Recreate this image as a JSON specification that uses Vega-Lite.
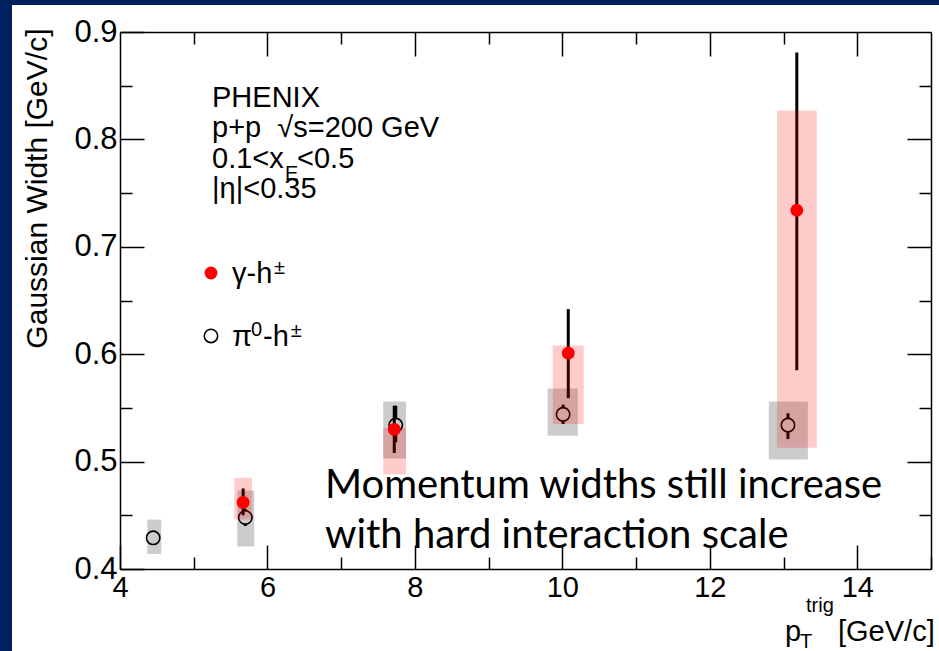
{
  "$schema": "https://vega.github.io/schema/vega-lite/v6.json",
  "width": 811,
  "height": 537,
  "autosize": {"type": "none"},
  "padding": {"left": 120, "top": 32, "right": 8, "bottom": 82},
  "background": "#002060",
  "config": {
    "view": {"stroke": null},
    "axis": {
      "grid": false,
      "domainColor": "black",
      "domainWidth": 1.5,
      "tickColor": "black",
      "tickWidth": 1.5,
      "labelColor": "black",
      "labelFont": "Liberation Sans",
      "labelFontSize": 29,
      "labelFlush": false,
      "labelOverlap": false,
      "titleFont": "Liberation Sans",
      "titleFontSize": 30,
      "titleFontWeight": "normal",
      "titleColor": "black"
    }
  },
  "datasets": {
    "panel": [{"x1": 2.535, "x2": 15.4, "y1": 0.3, "y2": 0.92514}],
    "gamma": [
      {"pt": 5.67, "w": 0.462, "lo": 0.450, "hi": 0.475, "sx1": 5.55, "sx2": 5.79, "slo": 0.446, "shi": 0.485},
      {"pt": 7.72, "w": 0.530, "lo": 0.508, "hi": 0.552, "sx1": 7.57, "sx2": 7.88, "slo": 0.488, "shi": 0.531},
      {"pt": 10.08, "w": 0.601, "lo": 0.559, "hi": 0.642, "sx1": 9.87, "sx2": 10.29, "slo": 0.535, "shi": 0.608},
      {"pt": 13.18, "w": 0.734, "lo": 0.585, "hi": 0.881, "sx1": 12.91, "sx2": 13.45, "slo": 0.513, "shi": 0.827}
    ],
    "pi0": [
      {"pt": 4.45, "w": 0.429, "lo": 0.423, "hi": 0.435, "sx1": 4.37, "sx2": 4.56, "slo": 0.414, "shi": 0.446},
      {"pt": 5.70, "w": 0.448, "lo": 0.440, "hi": 0.456, "sx1": 5.59, "sx2": 5.82, "slo": 0.421, "shi": 0.473},
      {"pt": 7.74, "w": 0.534, "lo": 0.518, "hi": 0.552, "sx1": 7.57, "sx2": 7.88, "slo": 0.503, "shi": 0.556},
      {"pt": 10.01, "w": 0.544, "lo": 0.535, "hi": 0.553, "sx1": 9.80, "sx2": 10.21, "slo": 0.524, "shi": 0.568},
      {"pt": 13.06, "w": 0.534, "lo": 0.521, "hi": 0.545, "sx1": 12.80, "sx2": 13.33, "slo": 0.502, "shi": 0.556}
    ],
    "legGamma": [{"lx": 5.234, "ly": 0.6756}],
    "legPi0": [{"lx": 5.234, "ly": 0.617}],
    "txtMain": [
      {"tx": 5.2478, "ty": 0.8302, "t": "PHENIX"},
      {"tx": 5.2478, "ty": 0.8022, "t": "p+p\u00a0\u00a0√s=200 GeV"},
      {"tx": 5.2478, "ty": 0.7734, "t": "0.1<x"},
      {"tx": 6.4008, "ty": 0.7734, "t": "<0.5"},
      {"tx": 5.2478, "ty": 0.7454, "t": "|η|<0.35"},
      {"tx": 5.519, "ty": 0.6663, "t": "γ-h"},
      {"tx": 5.519, "ty": 0.6076, "t": "π"},
      {"tx": 5.9396, "ty": 0.6076, "t": "-h"}
    ],
    "txtSmall": [
      {"tx": 6.238, "ty": 0.7622, "t": "E"},
      {"tx": 6.0888, "ty": 0.6747, "t": "±"},
      {"tx": 5.7768, "ty": 0.6169, "t": "0"},
      {"tx": 6.3155, "ty": 0.616, "t": "±"},
      {"tx": 13.223, "ty": 0.32644, "t": "T"},
      {"tx": 13.3045, "ty": 0.35996, "t": "trig"}
    ],
    "txtTitle": [
      {"tx": 13.0197, "ty": 0.33296, "t": "p"},
      {"tx": 13.7385, "ty": 0.33296, "t": "[GeV/c]"}
    ],
    "note": [
      {"tx": 6.7805, "ty": 0.4661, "t": "Momentum widths still increase"},
      {"tx": 6.7805, "ty": 0.4196, "t": "with hard interaction scale"}
    ]
  },
  "resolve": {"axis": {"x": "independent", "y": "independent"}},
  "layer": [
    {
      "data": {"name": "panel"},
      "mark": {"type": "rect", "fill": "white"},
      "encoding": {
        "x": {"field": "x1", "type": "quantitative", "scale": {"domain": [4, 15], "nice": false, "zero": false}, "axis": null},
        "x2": {"field": "x2"},
        "y": {"field": "y1", "type": "quantitative", "scale": {"domain": [0.4, 0.9], "nice": false, "zero": false}, "axis": null},
        "y2": {"field": "y2"}
      }
    },
    {
      "data": {"name": "pi0"},
      "mark": {"type": "rule", "color": "black", "strokeWidth": 3},
      "encoding": {
        "x": {"field": "pt", "type": "quantitative", "scale": {"domain": [4, 15], "nice": false, "zero": false},
          "axis": {
            "orient": "bottom",
            "zindex": 2,
            "values": [4, 5, 6, 7, 8, 9, 10, 11, 12, 13, 14, 15],
            "format": "d",
            "labelExpr": "(datum.value % 2 == 0 && datum.value < 15) ? datum.label : ''",
            "tickSize": {"condition": {"test": "datum.value % 2 == 0", "value": -24}, "value": -12},
            "labelPadding": 28,
            "title": null
          }
        },
        "y": {"field": "lo", "type": "quantitative", "scale": {"domain": [0.4, 0.9], "nice": false, "zero": false},
          "axis": {
            "orient": "left",
            "zindex": 2,
            "values": [0.4, 0.45, 0.5, 0.55, 0.6, 0.65, 0.7, 0.75, 0.8, 0.85, 0.9],
            "format": ".1f",
            "labelFontSize": 31,
            "labelExpr": "round(datum.value * 100) % 10 == 0 ? datum.label : ''",
            "tickSize": {"condition": {"test": "round(datum.value * 100) % 10 == 0", "value": -24}, "value": -12},
            "labelPadding": 27,
            "title": "Gaussian Width [GeV/c]",
            "titleAngle": -90,
            "titleAlign": "right",
            "titleBaseline": "middle",
            "titleX": -83,
            "titleY": -4
          }
        },
        "y2": {"field": "hi"}
      }
    },
    {
      "data": {"name": "pi0"},
      "mark": {"type": "point", "shape": "circle", "filled": true, "fill": "white", "stroke": "black", "strokeWidth": 1.6, "size": 180, "opacity": 1},
      "encoding": {
        "x": {"field": "pt", "type": "quantitative", "scale": {"domain": [4, 15], "nice": false, "zero": false},
          "axis": {
            "orient": "top",
            "zindex": 2,
            "values": [5, 6, 7, 8, 9, 10, 11, 12, 13, 14],
            "labels": false,
            "tickSize": {"condition": {"test": "datum.value % 2 == 0", "value": -24}, "value": -12},
            "title": null
          }
        },
        "y": {"field": "w", "type": "quantitative", "scale": {"domain": [0.4, 0.9], "nice": false, "zero": false},
          "axis": {
            "orient": "right",
            "zindex": 2,
            "values": [0.45, 0.5, 0.55, 0.6, 0.65, 0.7, 0.75, 0.8, 0.85],
            "labels": false,
            "tickSize": {"condition": {"test": "round(datum.value * 100) % 10 == 0", "value": -24}, "value": -12},
            "title": null
          }
        }
      }
    },
    {
      "data": {"name": "gamma"},
      "mark": {"type": "rule", "color": "black", "strokeWidth": 3},
      "encoding": {
        "x": {"field": "pt", "type": "quantitative", "scale": {"domain": [4, 15], "nice": false, "zero": false}, "axis": null},
        "y": {"field": "lo", "type": "quantitative", "scale": {"domain": [0.4, 0.9], "nice": false, "zero": false}, "axis": null},
        "y2": {"field": "hi"}
      }
    },
    {
      "data": {"name": "pi0"},
      "mark": {"type": "rect", "fill": "black", "fillOpacity": 0.2},
      "encoding": {
        "x": {"field": "sx1", "type": "quantitative", "scale": {"domain": [4, 15], "nice": false, "zero": false}, "axis": null},
        "x2": {"field": "sx2"},
        "y": {"field": "slo", "type": "quantitative", "scale": {"domain": [0.4, 0.9], "nice": false, "zero": false}, "axis": null},
        "y2": {"field": "shi"}
      }
    },
    {
      "data": {"name": "gamma"},
      "mark": {"type": "rect", "fill": "red", "fillOpacity": 0.2},
      "encoding": {
        "x": {"field": "sx1", "type": "quantitative", "scale": {"domain": [4, 15], "nice": false, "zero": false}, "axis": null},
        "x2": {"field": "sx2"},
        "y": {"field": "slo", "type": "quantitative", "scale": {"domain": [0.4, 0.9], "nice": false, "zero": false}, "axis": null},
        "y2": {"field": "shi"}
      }
    },
    {
      "data": {"name": "gamma"},
      "mark": {"type": "circle", "color": "#ff0000", "size": 165, "opacity": 1},
      "encoding": {
        "x": {"field": "pt", "type": "quantitative", "scale": {"domain": [4, 15], "nice": false, "zero": false}, "axis": null},
        "y": {"field": "w", "type": "quantitative", "scale": {"domain": [0.4, 0.9], "nice": false, "zero": false}, "axis": null}
      }
    },
    {
      "data": {"name": "legGamma"},
      "mark": {"type": "circle", "color": "#ff0000", "size": 165, "opacity": 1},
      "encoding": {
        "x": {"field": "lx", "type": "quantitative", "scale": {"domain": [4, 15], "nice": false, "zero": false}, "axis": null},
        "y": {"field": "ly", "type": "quantitative", "scale": {"domain": [0.4, 0.9], "nice": false, "zero": false}, "axis": null}
      }
    },
    {
      "data": {"name": "legPi0"},
      "mark": {"type": "point", "shape": "circle", "filled": true, "fill": "white", "stroke": "black", "strokeWidth": 1.6, "size": 180, "opacity": 1},
      "encoding": {
        "x": {"field": "lx", "type": "quantitative", "scale": {"domain": [4, 15], "nice": false, "zero": false}, "axis": null},
        "y": {"field": "ly", "type": "quantitative", "scale": {"domain": [0.4, 0.9], "nice": false, "zero": false}, "axis": null}
      }
    },
    {
      "data": {"name": "txtMain"},
      "mark": {"type": "text", "font": "Liberation Sans", "fontSize": 29, "align": "left", "baseline": "alphabetic", "color": "black"},
      "encoding": {
        "x": {"field": "tx", "type": "quantitative", "scale": {"domain": [4, 15], "nice": false, "zero": false}, "axis": null},
        "y": {"field": "ty", "type": "quantitative", "scale": {"domain": [0.4, 0.9], "nice": false, "zero": false}, "axis": null},
        "text": {"field": "t"}
      }
    },
    {
      "data": {"name": "txtSmall"},
      "mark": {"type": "text", "font": "Liberation Sans", "fontSize": 20, "align": "left", "baseline": "alphabetic", "color": "black"},
      "encoding": {
        "x": {"field": "tx", "type": "quantitative", "scale": {"domain": [4, 15], "nice": false, "zero": false}, "axis": null},
        "y": {"field": "ty", "type": "quantitative", "scale": {"domain": [0.4, 0.9], "nice": false, "zero": false}, "axis": null},
        "text": {"field": "t"}
      }
    },
    {
      "data": {"name": "txtTitle"},
      "mark": {"type": "text", "font": "Liberation Sans", "fontSize": 29, "align": "left", "baseline": "alphabetic", "color": "black"},
      "encoding": {
        "x": {"field": "tx", "type": "quantitative", "scale": {"domain": [4, 15], "nice": false, "zero": false}, "axis": null},
        "y": {"field": "ty", "type": "quantitative", "scale": {"domain": [0.4, 0.9], "nice": false, "zero": false}, "axis": null},
        "text": {"field": "t"}
      }
    },
    {
      "data": {"name": "note"},
      "mark": {"type": "text", "font": "Lato", "fontSize": 40, "align": "left", "baseline": "alphabetic", "color": "black"},
      "encoding": {
        "x": {"field": "tx", "type": "quantitative", "scale": {"domain": [4, 15], "nice": false, "zero": false}, "axis": null},
        "y": {"field": "ty", "type": "quantitative", "scale": {"domain": [0.4, 0.9], "nice": false, "zero": false}, "axis": null},
        "text": {"field": "t"}
      }
    }
  ]
}
